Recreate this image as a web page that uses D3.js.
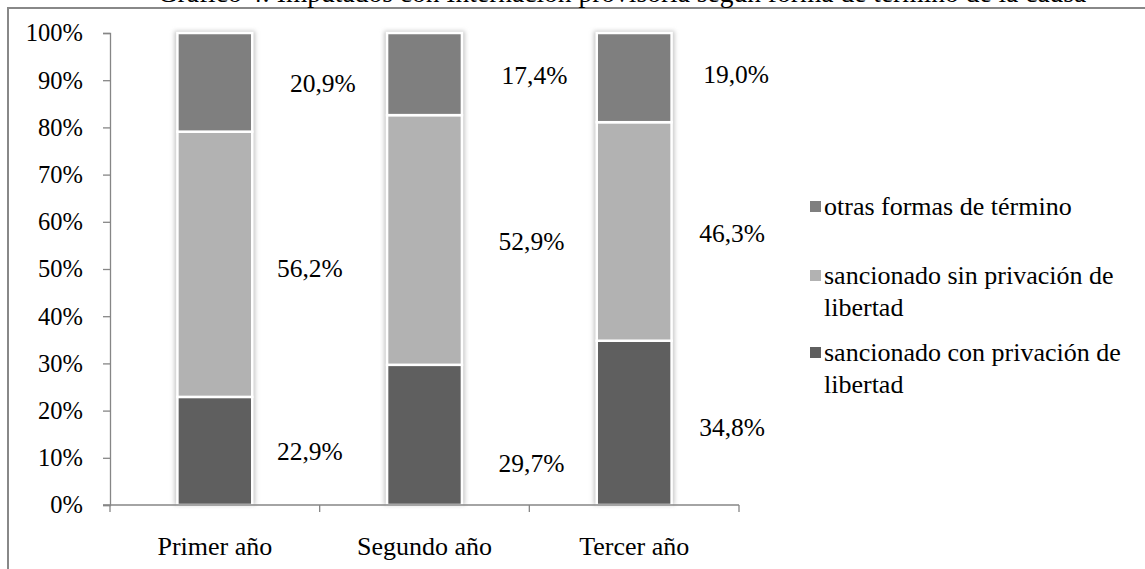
<!DOCTYPE html>
<html>
<head>
<meta charset="utf-8">
<script src="https://cdn.jsdelivr.net/npm/d3@7"></script>
<style>
  html, body { margin: 0; padding: 0; background: #fff; }
  svg { display: block; font-family: "Liberation Serif", "Times New Roman", serif; }
</style>
</head>
<body>
<svg id="chart" width="1145" height="569"></svg>
<script>
// Years of follow-up and outcome shares (%) per year
const categories = ["Primer año", "Segundo año", "Tercer año"];
const seriesNames = [
  "sancionado con privación de libertad",
  "sancionado sin privación de libertad",
  "otras formas de término"
];
const conPrivacion = [22.9, 29.7, 34.8];
const sinPrivacion = [56.2, 52.9, 46.3];
const otrasFormas = [20.9, 17.4, 19.0];
const yTicks = [0, 10, 20, 30, 40, 50, 60, 70, 80, 90, 100];
const titleText = "Gráfico 4: Imputados con Internación provisoria según forma de término de la causa";

const colors = ["#5f5f5f", "#b2b2b2", "#7f7f7f"];
// label nudges (px) per series, per category
const labelShift = [
  [[95, 0], [107, 28], [98, 4]],
  [[95, 4], [107, 1], [98, 2]],
  [[108, 1], [110, 1], [102, -4]]
];

const svg = d3.select("#chart");
const margin = { left: 110, top: 33, right: 1145 - 739, bottom: 569 - 505 };
const W = 1145, H = 569;

// outer frame
svg.append("rect")
  .attr("x", 8).attr("y", 8)
  .attr("width", W + 10).attr("height", H + 10)
  .attr("fill", "none").attr("stroke", "#888").attr("stroke-width", 2);

// caption sitting above the frame, partly off the page
svg.append("text")
  .attr("x", 622).attr("y", 2)
  .attr("text-anchor", "middle")
  .attr("font-size", 27.5)
  .attr("fill", "#000")
  .text(titleText);

const x = d3.scaleBand()
  .domain(categories)
  .range([margin.left, W - margin.right])
  .paddingInner(0.643).paddingOuter(0.3215);
const xOuter = d3.scaleBand().domain(categories).range([margin.left, W - margin.right]);
const y = d3.scaleLinear().domain([0, 100]).range([H - margin.bottom, margin.top]);

const defs = svg.append("defs");
defs.append("filter").attr("id", "glow")
  .attr("x", "-30%").attr("y", "-10%").attr("width", "160%").attr("height", "120%")
  .append("feGaussianBlur").attr("stdDeviation", 2);

// stack the series
const rows = categories.map((c, i) => ({
  cat: c, s0: conPrivacion[i], s1: sinPrivacion[i], s2: otrasFormas[i]
}));
const stack = d3.stack().keys(["s0", "s1", "s2"]);
const stacked = stack(rows);

// soft halo behind each column
svg.append("g").selectAll("rect")
  .data(rows)
  .join("rect")
  .attr("x", d => x(d.cat) - 3)
  .attr("y", y(100) - 2)
  .attr("width", x.bandwidth() + 6)
  .attr("height", y(0) - y(100) + 2)
  .attr("fill", "#c8c8c8")
  .attr("filter", "url(#glow)");

// column segments
const segG = svg.append("g");
stacked.forEach((layer, si) => {
  segG.append("g").selectAll("rect")
    .data(layer)
    .join("rect")
    .attr("x", d => x(d.data.cat))
    .attr("y", d => y(Math.min(d[1], 100)))
    .attr("width", x.bandwidth())
    .attr("height", d => y(d[0]) - y(Math.min(d[1], 100)))
    .attr("fill", colors[si])
    .attr("stroke", "#fff")
    .attr("stroke-width", 2.5);
});

// y axis
const yAxis = svg.append("g")
  .attr("transform", `translate(${margin.left},0)`)
  .call(d3.axisLeft(y).tickValues(yTicks).tickSize(7).tickPadding(20).tickFormat(d => d + "%"));
yAxis.attr("font-family", null);
yAxis.select(".domain").attr("stroke", "#868686").attr("stroke-width", 1.3);
yAxis.selectAll(".tick line").attr("stroke", "#868686").attr("stroke-width", 1.3);
yAxis.selectAll(".tick text")
  .attr("font-family", "Liberation Serif")
  .attr("font-size", 24.5).attr("fill", "#000");

// x axis with boundary ticks
const xAxisG = svg.append("g").attr("transform", `translate(0,${y(0)})`);
xAxisG.append("line")
  .attr("x1", margin.left - 7).attr("x2", W - margin.right)
  .attr("stroke", "#868686").attr("stroke-width", 1.3);
const bounds = categories.map(c => xOuter(c)).concat([xOuter(categories[categories.length - 1]) + xOuter.bandwidth()]);
xAxisG.selectAll("line.bt")
  .data(bounds)
  .join("line").attr("class", "bt")
  .attr("x1", d => d).attr("x2", d => d)
  .attr("y1", 0).attr("y2", 7)
  .attr("stroke", "#868686").attr("stroke-width", 1.3);
xAxisG.selectAll("text.cat")
  .data(categories)
  .join("text").attr("class", "cat")
  .attr("x", d => xOuter(d) + xOuter.bandwidth() / 2)
  .attr("y", 50)
  .attr("text-anchor", "middle")
  .attr("font-size", 26)
  .text(d => d);

// value labels
const fmt = v => v.toFixed(1).replace(".", ",") + "%";
const labG = svg.append("g");
stacked.forEach((layer, si) => {
  labG.append("g").selectAll("text")
    .data(layer)
    .join("text")
    .attr("x", (d, i) => x(d.data.cat) + x.bandwidth() / 2 + labelShift[si][i][0])
    .attr("y", (d, i) => (y(d[0]) + y(Math.min(d[1], 100))) / 2 + labelShift[si][i][1])
    .attr("dy", "0.35em")
    .attr("text-anchor", "middle")
    .attr("font-size", 25.5)
    .text(d => fmt(d[1] - d[0]));
});

// legend (top entry is the top segment)
const legendItems = [
  { name: ["otras formas de término"], color: colors[2] },
  { name: ["sancionado sin privación de", "libertad"], color: colors[1] },
  { name: ["sancionado con privación de", "libertad"], color: colors[0] }
];
const legendY = [215, 284, 361];
const legG = svg.append("g");
legendItems.forEach((it, i) => {
  const g = legG.append("g").attr("transform", `translate(810,${legendY[i]})`);
  g.append("rect").attr("x", 0).attr("y", -14).attr("width", 11).attr("height", 11).attr("fill", it.color);
  const t = g.append("text").attr("x", 14).attr("y", 0).attr("font-size", 26);
  it.name.forEach((line, k) => {
    t.append("tspan").attr("x", 14).attr("dy", k === 0 ? 0 : 32).text(line);
  });
});
</script>
</body>
</html>
